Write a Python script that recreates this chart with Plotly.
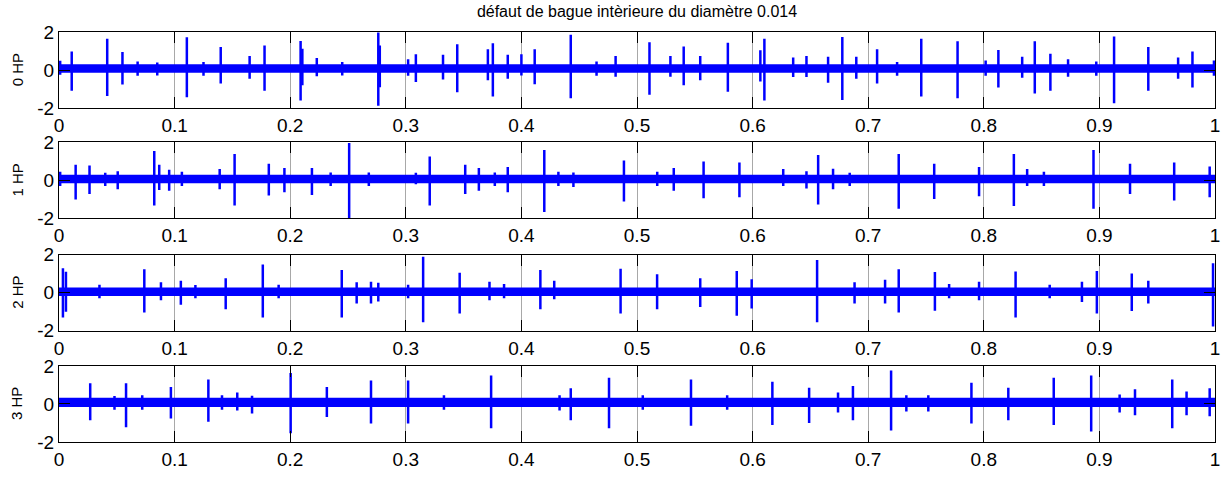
import plotly.graph_objects as go

# ---------------- data ----------------
title_text = "défaut de bague intèrieure du diamètre 0.014"
panel_labels = ["0 HP", "1 HP", "2 HP", "3 HP"]

x_ticks = [0, 0.1, 0.2, 0.3, 0.4, 0.5, 0.6, 0.7, 0.8, 0.9, 1.0]
x_tick_labels = ["0", "0.1", "0.2", "0.3", "0.4", "0.5", "0.6", "0.7", "0.8", "0.9", "1"]
y_ticks = [-2, 0, 2]
y_tick_labels = ["-2", "0", "2"]

# steady noise band (upper / lower envelope) per panel
band_hi = [0.31, 0.29, 0.27, 0.32]
band_lo = [-0.14, -0.15, -0.17, -0.16]

# impulses: (time s, peak max, peak min)
hp0_events = [
    (0.001, 0.49, -0.25), (0.011, 0.97, -1.09), (0.0417, 1.65, -1.36), (0.0549, 0.95, -0.76),
    (0.068, 0.45, -0.30), (0.085, 0.40, -0.28), (0.1106, 1.72, -1.43), (0.125, 0.42, -0.30),
    (0.1399, 1.21, -0.71), (0.1649, 0.74, -0.45), (0.1778, 1.29, -1.09), (0.209, 1.53, -1.60),
    (0.2105, 1.12, -0.80), (0.223, 0.64, -0.33), (0.245, 0.42, -0.28), (0.2762, 1.98, -1.87),
    (0.2775, 1.29, -0.90), (0.302, 0.57, -0.30), (0.3087, 0.83, -0.63), (0.3322, 0.80, -0.49),
    (0.3445, 1.35, -1.17), (0.371, 1.09, -0.54), (0.3753, 1.41, -1.39), (0.3882, 0.80, -0.45),
    (0.400, 0.83, -0.28), (0.4115, 1.09, -0.74), (0.4427, 1.86, -1.48), (0.465, 0.45, -0.30),
    (0.4815, 0.74, -0.35), (0.5108, 1.46, -1.29), (0.5289, 0.74, -0.35), (0.5404, 1.24, -0.80),
    (0.5547, 0.74, -0.54), (0.5786, 1.43, -1.14), (0.6067, 1.04, -0.60), (0.6102, 1.65, -1.60),
    (0.6351, 0.66, -0.37), (0.6466, 0.74, -0.37), (0.6653, 0.70, -0.67), (0.6776, 1.74, -1.57),
    (0.6897, 0.70, -0.45), (0.7077, 1.09, -0.71), (0.725, 0.42, -0.30), (0.7459, 1.65, -1.39),
    (0.7773, 1.52, -1.48), (0.8016, 0.50, -0.30), (0.8126, 1.05, -0.91), (0.8332, 0.70, -0.40),
    (0.8441, 1.52, -1.23), (0.8576, 0.86, -1.09), (0.8729, 0.57, -0.35), (0.8973, 0.45, -0.30),
    (0.9127, 1.77, -1.74), (0.9423, 1.21, -1.09), (0.9681, 0.66, -0.45), (0.9805, 0.97, -0.91),
    (0.9991, 0.50, -0.30),
]
hp1_events = [
    (0.001, 0.45, -0.30), (0.0144, 0.82, -1.01), (0.0264, 0.78, -0.72), (0.040, 0.40, -0.30),
    (0.0508, 0.48, -0.46), (0.0824, 1.54, -1.32), (0.0867, 0.82, -0.50), (0.0953, 0.56, -0.55),
    (0.1063, 0.45, -0.30), (0.139, 0.60, -0.46), (0.1519, 1.38, -1.32), (0.1815, 0.87, -0.80),
    (0.195, 0.65, -0.63), (0.2188, 0.65, -0.77), (0.235, 0.42, -0.30), (0.251, 1.96, -2.00),
    (0.268, 0.42, -0.30), (0.3087, 0.40, -0.20), (0.3207, 1.25, -1.32), (0.3514, 0.82, -0.72),
    (0.3632, 0.65, -0.55), (0.377, 0.42, -0.30), (0.3882, 0.70, -0.63), (0.4198, 1.59, -1.66),
    (0.432, 0.45, -0.30), (0.445, 0.42, -0.35), (0.4887, 1.04, -1.11), (0.5175, 0.45, -0.30),
    (0.5318, 0.65, -0.55), (0.5576, 0.99, -0.94), (0.5886, 0.94, -0.89), (0.6265, 0.60, -0.30),
    (0.6466, 0.48, -0.42), (0.6567, 1.33, -1.27), (0.6696, 0.61, -0.46), (0.684, 0.40, -0.30),
    (0.7264, 1.38, -1.49), (0.7571, 0.87, -0.98), (0.7959, 0.70, -0.84), (0.826, 1.38, -1.35),
    (0.8375, 0.60, -0.30), (0.852, 0.45, -0.30), (0.8949, 1.59, -1.49), (0.9265, 0.87, -0.72),
    (0.9647, 0.94, -1.06), (0.9954, 0.73, -0.89),
]
hp2_events = [
    (0.0034, 1.28, -1.31), (0.006, 1.10, -1.00), (0.035, 0.42, -0.30), (0.0738, 1.23, -1.04),
    (0.0882, 0.54, -0.40), (0.1054, 0.63, -0.63), (0.118, 0.40, -0.30), (0.1442, 0.76, -0.87),
    (0.1763, 1.48, -1.31), (0.190, 0.42, -0.30), (0.2446, 1.19, -1.30), (0.2575, 0.54, -0.57),
    (0.2699, 0.57, -0.57), (0.2762, 0.52, -0.46), (0.302, 0.42, -0.30), (0.315, 1.88, -1.55),
    (0.3466, 1.05, -1.09), (0.3724, 0.57, -0.40), (0.385, 0.45, -0.30), (0.4164, 1.19, -0.87),
    (0.4284, 0.62, -0.35), (0.4858, 1.26, -1.09), (0.5174, 0.97, -0.87), (0.5547, 0.75, -0.75),
    (0.5863, 1.14, -1.21), (0.5992, 0.71, -0.83), (0.6558, 1.71, -1.55), (0.6882, 0.54, -0.57),
    (0.7146, 0.68, -0.57), (0.7264, 1.23, -1.04), (0.7577, 1.09, -0.95), (0.770, 0.45, -0.30),
    (0.7959, 0.57, -0.40), (0.8275, 1.11, -1.31), (0.857, 0.42, -0.30), (0.8849, 0.57, -0.49),
    (0.8978, 1.14, -1.09), (0.928, 1.00, -0.97), (0.9423, 0.62, -0.57), (0.9983, 1.54, -1.78),
]
hp3_events = [
    (0.027, 1.08, -0.86), (0.048, 0.42, -0.30), (0.058, 1.08, -1.23), (0.072, 0.45, -0.30),
    (0.0968, 0.89, -0.77), (0.1292, 1.28, -0.94), (0.141, 0.45, -0.30), (0.1542, 0.60, -0.35),
    (0.167, 0.43, -0.50), (0.2004, 1.62, -1.54), (0.2317, 0.89, -0.68), (0.2699, 1.23, -1.03),
    (0.302, 1.23, -1.03), (0.333, 0.45, -0.30), (0.3738, 1.49, -1.28), (0.433, 0.45, -0.35),
    (0.4427, 0.82, -0.86), (0.4758, 1.37, -1.28), (0.505, 0.45, -0.30), (0.5467, 1.28, -1.15),
    (0.578, 0.45, -0.30), (0.6171, 1.16, -1.11), (0.6489, 0.85, -1.00), (0.6739, 0.60, -0.45),
    (0.6868, 0.94, -0.86), (0.7198, 1.76, -1.40), (0.733, 0.45, -0.40), (0.752, 0.45, -0.40),
    (0.7893, 1.11, -1.03), (0.8212, 0.85, -0.86), (0.8605, 1.37, -1.11), (0.8929, 1.50, -1.45),
    (0.9175, 0.50, -0.45), (0.9308, 0.77, -0.60), (0.963, 1.28, -1.28), (0.9754, 0.65, -0.60),
    (0.9954, 0.82, -0.65),
]
panels = [hp0_events, hp1_events, hp2_events, hp3_events]

# ---------------- layout geometry ----------------
W, H = 1231, 481
M_L, M_R, M_T, M_B = 59, 11, 32, 29
plot_h = H - M_T - M_B
panel_tops = [32, 145, 260, 374]
panel_h = 78
BLUE = "#0000FF"
FONT = "Liberation Sans, Arial, sans-serif"

fig = go.Figure()
layout = dict(
    width=W, height=H,
    margin=dict(l=M_L, r=M_R, t=M_T, b=M_B, pad=0),
    paper_bgcolor="white", plot_bgcolor="white",
    showlegend=False,
    font=dict(family=FONT, size=19, color="black"),
    title=dict(text=title_text, x=0.5, xref="paper", xanchor="center",
               y=1 - 11 / H, yref="container", yanchor="middle",
               font=dict(family=FONT, size=16, color="black")),
    annotations=[],
)

for i, events in enumerate(panels):
    n = "" if i == 0 else str(i + 1)
    xa, ya = "x" + n, "y" + n
    top = panel_tops[i]
    y1 = 1 - (top - M_T) / plot_h
    y0 = 1 - (top + panel_h - M_T) / plot_h

    # noise band
    fig.add_trace(go.Scatter(
        x=[x_ticks[0], x_ticks[-1], x_ticks[-1], x_ticks[0], x_ticks[0]],
        y=[band_hi[i], band_hi[i], band_lo[i], band_lo[i], band_hi[i]],
        fill="toself", fillcolor=BLUE, mode="lines", line=dict(width=0, color=BLUE),
        xaxis=xa, yaxis=ya, hoverinfo="skip"))

    # impulses
    xs, ys = [], []
    for t, hi, lo in events:
        xs += [t, t, None]
        ys += [lo, hi, None]
    fig.add_trace(go.Scatter(x=xs, y=ys, mode="lines",
                             line=dict(color=BLUE, width=2.5),
                             xaxis=xa, yaxis=ya, hoverinfo="skip"))

    layout["xaxis" + n] = dict(
        domain=[0, 1], anchor=ya, range=[0, 1],
        tickmode="array", tickvals=x_ticks, ticktext=x_tick_labels,
        ticks="inside", ticklen=11, tickwidth=1, tickcolor="black",
        showline=True, linecolor="black", linewidth=1, mirror="ticks",
        showgrid=True, gridcolor="#a8a8a8", gridwidth=1, zeroline=False,
        tickfont=dict(family=FONT, size=19, color="black"))
    layout["yaxis" + n] = dict(
        domain=[y0, y1], anchor=xa, range=[-2, 2],
        tickmode="array", tickvals=y_ticks, ticktext=y_tick_labels,
        ticks="inside", ticklen=11, tickwidth=1, tickcolor="black",
        showline=True, linecolor="black", linewidth=1, mirror="ticks",
        showgrid=False, zeroline=False,
        tickfont=dict(family=FONT, size=19, color="black"))
    layout["annotations"].append(dict(
        text=panel_labels[i], xref="paper", yref="paper",
        x=-42 / (W - M_L - M_R), y=(y0 + y1) / 2,
        xanchor="center", yanchor="middle", textangle=-90, showarrow=False,
        font=dict(family=FONT, size=15, color="black")))

fig.update_layout(**layout)
fig.write_html("out.html")
